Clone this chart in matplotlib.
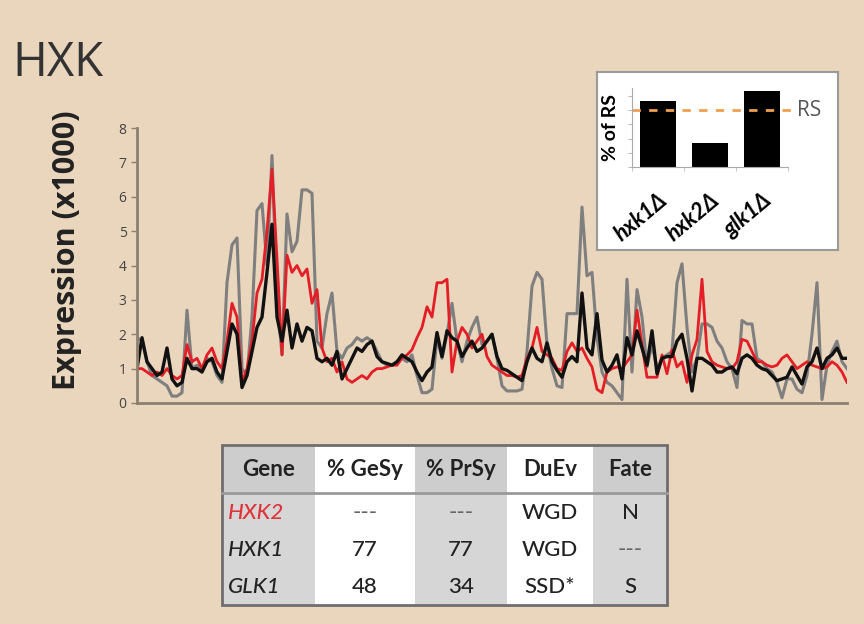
import numpy as np
import matplotlib.pyplot as plt
from matplotlib.patches import Rectangle

plt.rcParams['font.family'] = ['Open Sans', 'DejaVu Sans']
narrow = ['Lato', 'DejaVu Sans']

# expression profiles (x1000)
hxk1 = [1.9, 1.8, 1.2, 0.8, 0.7, 0.6, 0.5, 0.2, 0.2, 0.3, 2.7, 1.0, 1.1, 1.0, 1.3, 1.2, 0.8, 0.6,
        3.5, 4.6, 4.8, 1.0, 0.8, 2.5, 5.6, 5.8, 4.0, 7.2, 3.0, 1.4, 5.5, 4.4, 4.7, 6.2, 6.2, 6.1,
        1.8, 1.6, 2.6, 3.2, 1.5, 1.3, 1.6, 1.7, 1.9, 1.8, 1.9, 1.8, 1.5, 1.2, 1.1, 1.1, 1.2, 1.3,
        1.2, 1.4, 0.8, 0.3, 0.3, 0.4, 1.9, 1.3, 2.0, 2.9, 1.8, 1.2, 1.8, 2.2, 2.5, 1.7, 1.8, 2.0,
        1.3, 0.5, 0.35, 0.35, 0.35, 0.4, 1.5, 3.4, 3.8, 3.6, 1.7, 1.0, 0.5, 0.45, 2.6, 2.6, 2.6,
        5.7, 3.7, 3.8, 1.9, 0.9, 0.6, 0.5, 0.3, 0.1, 3.6, 0.9, 3.3, 2.5, 1.05, 1.7, 1.0, 1.3, 1.4,
        1.5, 3.5, 4.05, 2.2, 0.9, 1.3, 2.3, 2.3, 2.2, 1.8, 1.6, 1.2, 1.0, 0.45, 2.4, 2.3, 2.3, 1.3,
        1.2, 1.0, 0.9, 0.6, 0.15, 0.7, 0.7, 0.4, 0.3, 0.8, 2.0, 3.5, 0.1, 1.1, 1.5, 1.8, 1.2, 1.0]
hxk2 = [1.0, 1.0, 0.9, 0.8, 0.9, 0.8, 1.0, 0.8, 0.7, 0.8, 1.7, 1.2, 1.3, 1.0, 1.4, 1.6, 1.2, 1.0,
        1.8, 2.9, 2.5, 0.6, 1.0, 1.8, 3.2, 3.6, 5.0, 6.8, 4.2, 1.4, 4.3, 3.8, 4.0, 3.7, 3.9, 2.9,
        3.3, 1.6, 1.2, 1.3, 0.9, 1.2, 0.7, 0.6, 0.7, 0.8, 0.7, 0.9, 1.0, 1.0, 1.05, 1.1, 1.1, 1.3,
        1.4, 1.55, 1.9, 2.2, 2.8, 2.5, 3.5, 3.5, 3.6, 0.9, 1.8, 2.2, 2.0, 1.6, 1.8, 2.0, 1.35, 1.1,
        1.0, 0.9, 0.8, 0.8, 0.75, 0.8, 1.3, 1.6, 2.2, 1.5, 1.4, 1.3, 1.0, 0.95, 1.5, 1.75, 1.5,
        1.6, 1.3, 1.05, 0.4, 0.3, 0.9, 1.0, 1.05, 1.0, 1.2, 1.4, 2.7, 1.7, 0.75, 0.75, 0.75, 1.4,
        0.85, 1.55, 1.05, 1.2, 0.6, 1.4, 1.85, 3.6, 1.5, 1.2, 1.1, 1.05, 1.0, 1.0, 1.2, 1.85, 1.8,
        1.5, 1.2, 1.2, 1.1, 1.05, 1.1, 1.3, 1.4, 1.2, 1.0, 1.1, 1.2, 1.1, 1.05, 1.0, 1.05, 1.2,
        1.1, 0.9, 0.6]
glk1 = [1.0, 1.9, 1.2, 1.0, 0.8, 0.9, 1.6, 0.7, 0.5, 0.6, 1.3, 1.0, 1.0, 0.9, 1.2, 1.3, 0.9, 0.7,
        1.5, 2.3, 2.0, 0.45, 0.8, 1.5, 2.2, 2.5, 3.8, 5.2, 2.5, 1.8, 2.7, 1.6, 2.3, 1.8, 2.2, 2.1,
        1.3, 1.2, 1.3, 1.1, 1.5, 0.7, 1.0, 1.3, 1.6, 1.5, 1.7, 1.8, 1.35, 1.2, 1.15, 1.1, 1.2, 1.4,
        1.3, 1.2, 0.9, 0.65, 0.9, 1.05, 2.05, 1.35, 2.1, 1.9, 1.8, 1.35, 1.6, 1.8, 1.5, 1.6, 1.8,
        2.0, 1.35, 1.0, 0.95, 0.85, 0.75, 0.65, 1.2, 1.6, 1.3, 1.2, 1.75, 1.2, 0.95, 0.75, 1.2,
        1.35, 1.2, 3.2, 1.6, 1.4, 2.6, 1.25, 0.9, 1.1, 1.4, 0.7, 1.9, 1.4, 2.1, 1.6, 1.1, 2.1, 0.85,
        1.3, 1.35, 1.35, 1.8, 2.0, 1.3, 0.35, 1.3, 1.3, 1.2, 1.1, 0.9, 0.9, 1.0, 1.05, 0.85, 1.3,
        1.4, 1.3, 1.1, 1.0, 0.95, 0.8, 0.65, 0.7, 0.75, 1.05, 0.8, 0.55, 1.05, 1.2, 1.6, 1.0, 1.3,
        1.4, 1.6, 1.3, 1.3]

# inset: growth of deletion mutants, % of reference strain
mutants = ['hxk1Δ', 'hxk2Δ', 'glk1Δ']
pct_rs = [116, 42, 133]
rs_level = 100

# table
col_labels = ['Gene', '% GeSy', '% PrSy', 'DuEv', 'Fate']
table_rows = [['HXK2', '---', '---', 'WGD', 'N'],
              ['HXK1', '77', '77', 'WGD', '---'],
              ['GLK1', '48', '34', 'SSD*', 'S']]

bg = '#e9d6bd'
fig = plt.figure(figsize=(8.64, 6.24), dpi=100, facecolor=bg)

# main line chart
ax = fig.add_axes([137/864, 1-403/624, 710/864, 275/624])
ax.set_facecolor('none')
ax.plot(np.arange(len(hxk1)), hxk1, color='#7f7f7f', lw=2.2)
ax.plot(np.arange(len(hxk2)), hxk2, color='#e41e26', lw=2.0)
ax.plot(np.arange(len(glk1)), glk1, color='#111111', lw=2.4)
ax.set_xlim(0, len(hxk1) - 1)
ax.set_ylim(0, 8)
ax.set_yticks(range(0, 9))
ax.set_xticks([])
ax.tick_params(axis='y', labelsize=10, labelcolor='#444444', color='#8c8070', length=4, width=1)
for s in ['top', 'right']:
    ax.spines[s].set_visible(False)
for s in ['left', 'bottom']:
    ax.spines[s].set_color('#8c8070')
    ax.spines[s].set_linewidth(2)
ax.set_ylabel('Expression (x1000)', fontsize=22, fontweight='bold', color='#222222')
ax.yaxis.set_label_coords(-0.077, 0.555)

fig.text(12/864, 1-63/624, 'HXK', fontsize=34, color='#333333', va='center', ha='left')

# inset box
box = fig.add_axes([597/864, 1-250/624, 241/864, 178/624])
box.set_facecolor('white')
box.set_xticks([])
box.set_yticks([])
for s in box.spines.values():
    s.set_color('#9a9a9a')
    s.set_linewidth(1.5)

ins = fig.add_axes([632/864, 1-167/624, 156/864, 79/624])
ins.set_facecolor('white')
xpos = np.arange(len(mutants))
ins.bar(xpos, pct_rs, width=0.68, color='black')
ins.set_xlim(-0.5, len(mutants) - 0.5)
ins.set_ylim(0, 139)
ins.axhline(rs_level, xmin=0, xmax=1.05, color='#f0a050', lw=2, ls=(0, (3, 3)), clip_on=False)
ins.text(1.06, rs_level, 'RS', transform=ins.get_yaxis_transform(), fontsize=15,
         color='#555555', va='center', ha='left')
ins.set_xticks(xpos)
ins.set_xticklabels(mutants, rotation=40, ha='right', rotation_mode='anchor',
                    fontsize=16, fontweight='bold', fontstyle='italic', family=narrow)
ins.set_xticks(np.arange(-0.5, len(mutants)), minor=True)
ins.tick_params(axis='x', which='major', length=0, pad=16)
ins.tick_params(axis='x', which='minor', length=3, color='#bbbbbb')
ins.set_yticks(np.arange(0, 140, 25))
ins.set_yticklabels([])
ins.tick_params(axis='y', length=3, color='#bbbbbb')
for s in ['top', 'right']:
    ins.spines[s].set_visible(False)
for s in ['left', 'bottom']:
    ins.spines[s].set_color('#aaaaaa')
ins.set_ylabel('% of RS', fontsize=14, fontweight='bold', labelpad=3, family=narrow)

# table
tax = fig.add_axes([222/864, 1-605/624, 445/864, 160/624])
tax.axis('off')
col_w = [93, 100, 92, 86, 74]
gray_cols = {0, 2, 4}
cell_colours = [['#d6d6d6' if c in gray_cols else 'white' for c in range(5)] for _ in table_rows]
tbl = tax.table(cellText=table_rows, colLabels=col_labels, cellColours=cell_colours,
                colColours=['#cdcdcd' if c in gray_cols else 'white' for c in range(5)],
                colWidths=[w / sum(col_w) for w in col_w], cellLoc='center', bbox=[0, 0, 1, 1])
tbl.auto_set_font_size(False)
for (r, c), cell in tbl.get_celld().items():
    cell.set_edgecolor('none')
    cell.set_height(50 if r == 0 else 37)
    t = cell.get_text()
    t.set_fontsize(16)
    t.set_family(narrow)
    t.set_color('#222222')
    if r == 0:
        t.set_fontweight('bold')
    else:
        t.set_fontweight('medium')
    if c == 0 and r > 0:
        t.set_fontstyle('italic')
        t.set_ha('left')
        cell.PAD = 0.06
    if c == 0 and r == 1:
        t.set_color('#e0333a')
    if r > 0 and table_rows[r - 1][c] == '---':
        t.set_color('#666666')
tax.add_patch(Rectangle((0, 0), 1, 1, transform=tax.transAxes, fill=False,
                        edgecolor='#6e6e6e', lw=2, clip_on=False, zorder=5))
tax.plot([0, 1], [112/160, 112/160], transform=tax.transAxes, color='#9a9a9a', lw=2,
         clip_on=False, zorder=5)

fig.savefig('out.png', dpi=100, facecolor=bg)
